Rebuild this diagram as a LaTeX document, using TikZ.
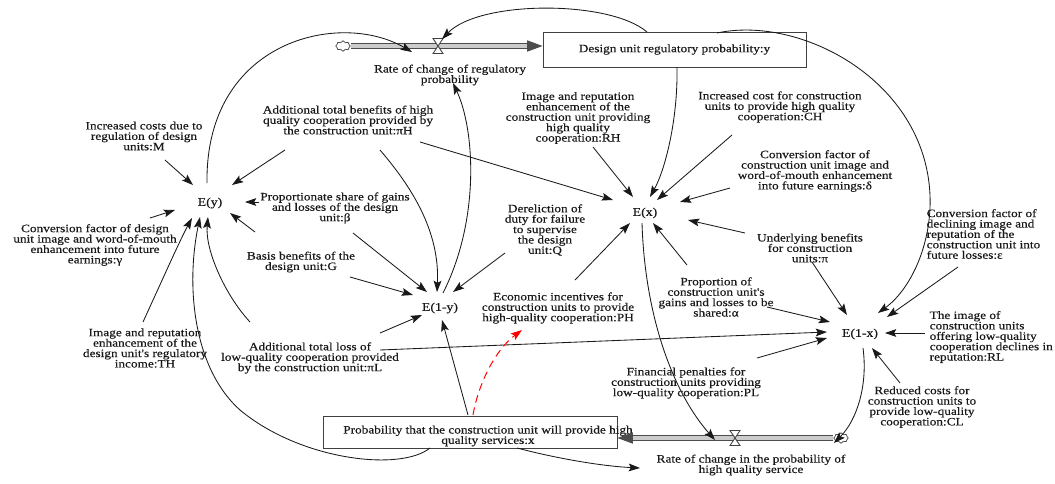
\documentclass[tikz,border=0pt]{standalone}
\usepackage{fontspec}
\newfontfamily\sdfont[FakeStretch=1.18,FakeBold=0.4]{Liberation Serif}
\usetikzlibrary{arrows.meta,shapes.symbols}

\tikzset{
  lbl/.style={font=\sdfont\fontsize{8}{7.4}\selectfont, align=center, inner sep=1pt, text=black!90},
  lblw/.style={lbl, align=left, anchor=west},
  var/.style={font=\sdfont\fontsize{8.3}{7.6}\selectfont, inner sep=1pt, text=black!90},
  stock/.style={draw=black!75, line width=0.6pt, font=\sdfont\fontsize{8}{7.4}\selectfont, text=black!90, inner sep=0pt},
  link/.style={->, line width=0.6pt, black!90},
  redlink/.style={->, line width=0.7pt, red, dash pattern=on 5.5pt off 3.5pt},
  pipe/.style={draw=black!70, line width=0.6pt, double=gray!40, double distance=2.4pt, -{Triangle[length=11pt,width=8pt]}},
  sink/.style={cloud, cloud puffs=8, draw=black!75, fill=white, line width=0.5pt, minimum width=0.36cm, minimum height=0.26cm, inner sep=0pt},
  valve/.style={draw=black!75, fill=white, line width=0.6pt},
}

\begin{document}
\begin{tikzpicture}[x=0.025cm,y=-0.025cm,>={Stealth[length=8pt,width=5.5pt,inset=1.5pt]}]
\useasboundingbox (0,0) rectangle (1055,483);

% stocks, flows
\node[stock, minimum width=6.575cm, minimum height=0.875cm] (stockY) at (674.5,49.5) {Design unit regulatory probability:y};
\node[stock, minimum width=7.35cm, minimum height=0.8cm] (stockX) at (470,432) {};
\node[lbl] (stockXtxt) at (488,436) {Probability that the construction unit will provide high\\quality services:x};
\node[sink] (cloudY) at (343,46) {};
\node[sink] (cloudX) at (841,438) {};
\coordinate (vY) at (438,46);
\coordinate (vX) at (735,438);
\draw[pipe] (cloudY.east) -- (stockY.west |- cloudY);
\draw[pipe] (cloudX.west) -- (stockX.east |- cloudX);
\draw[valve] ([shift={(-5,-7.5)}]vY) -- ++(10,0) -- ++(-10,15) -- ++(10,0) -- cycle;
\draw[valve] ([shift={(-5,-7.5)}]vX) -- ++(10,0) -- ++(-10,15) -- ++(10,0) -- cycle;
\node[lbl] (rateY) at (450,75) {Rate of change of regulatory\\probability};
\node[lbl] (rateX) at (751,465) {Rate of change in the probability of\\high quality service};

% auxiliaries
\node[var] (Ey)  at (210,203) {E(y)};
\node[var] (E1y) at (440,308) {E(1-y)};
\node[var] (Ex)  at (645,213) {E(x)};
\node[var] (E1x) at (860,334) {E(1-x)};

\node[lbl] (lM)     at (144,136) {Increased costs due to\\regulation of design\\units:M};
\node[lbl] (lpiH)   at (348,120) {Additional total benefits of high\\quality cooperation provided by\\the construction unit:πH};
\node[lbl] (lbeta)  at (335,208) {Proportionate share of gains\\and losses of the design\\unit:β};
\node[lbl] (lG)     at (301,262) {Basis benefits of the\\design unit:G};
\node[lbl] (lgamma) at (95,245)  {Conversion factor of design\\unit image and word-of-mouth\\enhancement into future\\earnings:γ};
\node[lbl] (lTH)    at (145,348) {Image and reputation\\enhancement of the\\design unit's regulatory\\income:TH};
\node[lbl] (lpiL)   at (310,358) {Additional total loss of\\low-quality cooperation provided\\by the construction unit:πL};
\node[lbl] (lQ)     at (545,230) {Dereliction of\\duty for failure\\to supervise\\the design\\unit:Q};
\node[lbl] (lPH)    at (558,308) {Economic incentives for\\construction units to provide\\high-quality cooperation:PH};
\node[lbl] (lRH)    at (578,118) {Image and reputation\\enhancement of the\\construction unit providing\\high quality\\cooperation:RH};
\node[lbl] (lCH)    at (780,107) {Increased cost for construction\\units to provide high quality\\cooperation:CH};
\node[lbl] (ldelta) at (815,171) {Conversion factor of\\construction unit image and\\word-of-mouth enhancement\\into future earnings:δ};
\node[lbl] (lpi)    at (810,248) {Underlying benefits\\for construction\\units:π};
\node[lbl] (lalpha) at (716,297) {Proportion of\\construction unit's\\gains and losses to be\\shared:α};
\node[lblw] (leps)  at (925,234) {Conversion factor of\\declining image and\\reputation of the\\construction unit into\\future losses:ε};
\node[lblw] (lRL)   at (928,337) {The image of\\construction units\\offering low-quality\\cooperation declines in\\reputation:RL};
\node[lbl] (lCL)    at (922,407) {Reduced costs for\\construction units to\\provide low-quality\\cooperation:CL};
\node[lbl] (lPL)    at (686,383) {Financial penalties for\\construction units providing\\low-quality cooperation:PL};

\path ([shift={(21,24)}]lM.center)      edge[link] ([shift={(-17,-18)}]Ey.center)
      ([shift={(-63,30)}]lpiH.center)   edge[link] ([shift={(22,-18)}]Ey.center)
      ([shift={(-76,-6)}]lbeta.center)  edge[link] ([shift={(35,-1)}]Ey.center)
      ([shift={(-46,-30)}]lG.center)    edge[link] ([shift={(20,10)}]Ey.center)
      ([shift={(55,-27)}]lgamma.center) edge[link] ([shift={(-35,7)}]Ey.center)
      ([shift={(18,25)}]lbeta.center)   edge[link] ([shift={(-13,-16)}]E1y.center)
      ([shift={(49,15)}]lG.center)      edge[link] ([shift={(-27,-13)}]E1y.center)
      ([shift={(-40,23)}]lQ.center)     edge[link] ([shift={(13,-16)}]E1y.center)
      ([shift={(70,-25)}]lpiL.center)   edge[link] ([shift={(-18,7)}]E1y.center)
      ([shift={(-2,-17)}]stockX.center) edge[link] ([shift={(2,12)}]E1y.center)
      ([shift={(72,22)}]lpiH.center)    edge[link] ([shift={(-32,-13)}]Ex.center)
      ([shift={(15,29)}]lRH.center)     edge[link] ([shift={(-12,-16)}]Ex.center)
      ([shift={(-48,28)}]lCH.center)    edge[link] ([shift={(12,-13)}]Ex.center)
      ([shift={(-85,17)}]ldelta.center) edge[link] ([shift={(35,-11)}]Ex.center)
      ([shift={(-65,-15)}]lpi.center)   edge[link] ([shift={(43,7)}]Ex.center)
      ([shift={(-29,-32)}]lalpha.center) edge[link] ([shift={(8,10)}]Ex.center)
      ([shift={(17,-28)}]lPH.center)    edge[link] ([shift={(-15,10)}]Ex.center)
      ([shift={(2,14)}]lpi.center)      edge[link] ([shift={(-13,-19)}]E1x.center)
      ([shift={(33,33)}]leps.west)      edge[link] ([shift={(27,-17)}]E1x.center)
      ([shift={(51,10)}]lalpha.center)  edge[link] ([shift={(-30,-12)}]E1x.center)
      ([shift={(70,-8)}]lpiL.center)    edge[link] ([shift={(-33,-2)}]E1x.center)
      ([shift={(71,-25)}]lPL.center)    edge[link] ([shift={(-33,4)}]E1x.center)
      ([shift={(-3,-4)}]lRL.west)       edge[link] ([shift={(25,-1)}]E1x.center)
      ([shift={(-22,-24)}]lCL.center)   edge[link] ([shift={(12,14)}]E1x.center);

\draw[link] ([shift={(-2,-26)}]lTH.center) .. controls (160,285) and (180,240) .. ([shift={(-18,15)}]Ey.center);
\draw[link] ([shift={(-40,16)}]stockX.center) .. controls (400,472) and (300,460) .. (240,410)
            .. controls (195,370) and (185,290) .. ([shift={(-10,14)}]Ey.center);
\draw[link] ([shift={(-60,-36)}]lpiL.center) .. controls (225,295) and (205,250) .. ([shift={(-2,14)}]Ey.center);
\draw[link] ([shift={(-3,-20)}]Ey.center) .. controls (205,40) and (340,10) .. ([shift={(-38,-23)}]rateY.center);
\draw[link] ([shift={(-27.5,-17.5)}]stockY.center) .. controls (610,0) and (480,0) .. ([shift={(4,-7)}]vY);
\draw[link] ([shift={(32,30)}]lpiH.center) .. controls (410,185) and (440,230) .. ([shift={(-3,-16)}]E1y.center);
\draw[link] ([shift={(3,-15)}]E1y.center) .. controls (480,220) and (475,130) .. ([shift={(3,8)}]rateY.center);
\draw[redlink] ([shift={(3,-17)}]stockX.center) .. controls (478,385) and (495,350) .. ([shift={(-36,22)}]lPH.center);
\draw[link] ([shift={(2.5,17.5)}]stockY.center) .. controls (678,120) and (665,170) .. ([shift={(5,-16)}]Ex.center);
\draw[link] ([shift={(-3,10)}]Ex.center) .. controls (645,320) and (675,395) .. ([shift={(-20,2)}]vX);
\draw[link] ([shift={(42.5,-16.5)}]stockY.center) .. controls (800,15) and (925,80) .. (930,195)
            .. controls (932,245) and (910,290) .. ([shift={(18,-21)}]E1x.center);
\draw[link] ([shift={(3,14)}]E1x.center) .. controls (868,385) and (857,420) .. ([shift={(-7,5)}]cloudX.center);
\draw[link] ([shift={(47,16)}]stockX.center) .. controls (555,458) and (600,466) .. ([shift={(-111,3)}]rateX.center);
\end{tikzpicture}
\end{document}
